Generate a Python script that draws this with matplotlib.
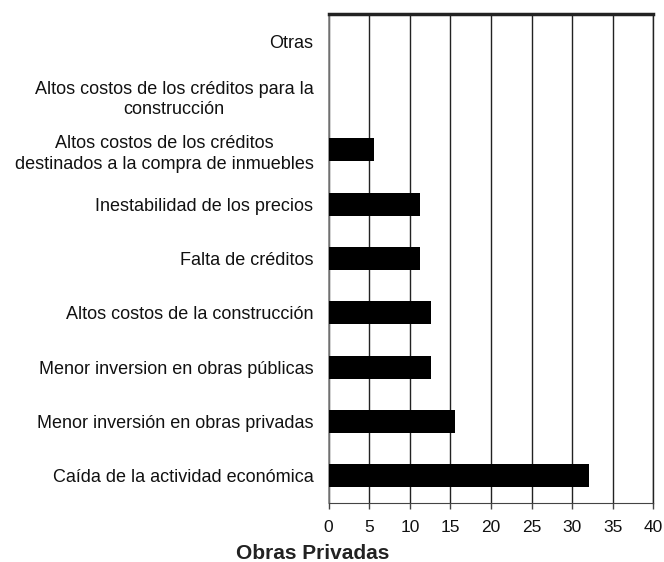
import numpy as np
import matplotlib.pyplot as plt

plt.rcParams['font.family'] = ['Liberation Sans', 'DejaVu Sans']

# categories from bottom to top
categorias = [
    'Caída de la actividad económica',
    'Menor inversión en obras privadas',
    'Menor inversion en obras públicas',
    'Altos costos de la construcción',
    'Falta de créditos',
    'Inestabilidad de los precios',
    'Altos costos de los créditos\ndestinados a la compra de inmuebles',
    'Altos costos de los créditos para la\nconstrucción',
    'Otras',
]
valores = [32.1, 15.6, 12.6, 12.6, 11.3, 11.3, 5.6, 0, 0]
xticks = [0, 5, 10, 15, 20, 25, 30, 35, 40]

fig = plt.figure(figsize=(6.64, 5.62), dpi=100)
ax = fig.add_axes([0.495, 0.105, 0.489, 0.870])

y = np.arange(len(categorias))
ax.barh(y, valores, height=0.42, color='black', zorder=3)

ax.set_xlim(0, 40)
ax.set_ylim(-0.5, len(categorias) - 0.5)
ax.set_xticks(xticks)
ax.set_yticks(y)
ax.set_yticklabels(categorias, fontsize=13, color='#111111')
for lbl in ax.get_yticklabels():
    lbl.set_multialignment('center')
    lbl.set_linespacing(1.3)

ax.tick_params(axis='y', length=0, pad=11)
ax.tick_params(axis='x', length=4, width=1, color='#444444', labelsize=12.5,
               labelcolor='#111111', pad=8.5)

ax.grid(axis='x', color='#222222', linewidth=1.0, zorder=0)
ax.grid(axis='y', visible=False)

ax.spines['top'].set_linewidth(2.5)
ax.spines['top'].set_color('#222222')
ax.spines['left'].set_color('#808080')
ax.spines['left'].set_linewidth(1.2)
ax.spines['bottom'].set_color('#444444')
ax.spines['right'].set_color('#222222')
ax.spines['right'].set_linewidth(1.0)

fig.text(0.471, -0.002, 'Obras Privadas', fontsize=15, fontweight='bold',
         ha='center', va='bottom', color='#222222')

plt.savefig('out.png', dpi=100)
